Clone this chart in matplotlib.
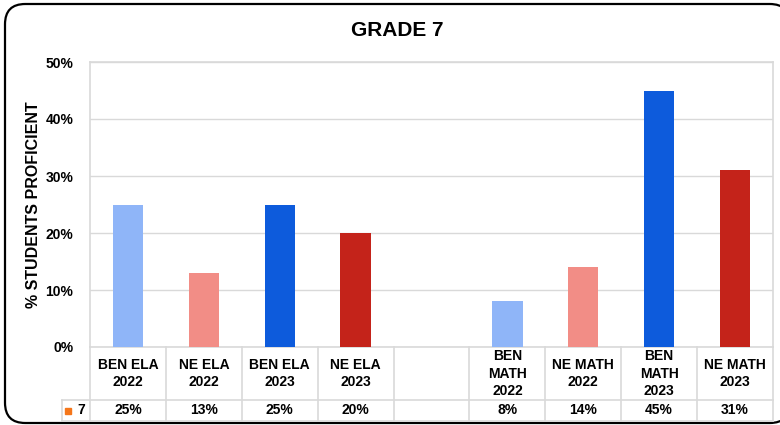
import matplotlib.pyplot as plt
from matplotlib.patches import FancyBboxPatch
import matplotlib.transforms as mtransforms

plt.rcParams['font.family'] = ['Liberation Sans', 'DejaVu Sans']
plt.rcParams['font.weight'] = 'bold'

# data
categories = ['BEN ELA\n2022', 'NE ELA\n2022', 'BEN ELA\n2023', 'NE ELA\n2023', '',
              'BEN\nMATH\n2022', 'NE MATH\n2022', 'BEN\nMATH\n2023', 'NE MATH\n2023']
values = [0.25, 0.13, 0.25, 0.20, None, 0.08, 0.14, 0.45, 0.31]
value_labels = ['25%', '13%', '25%', '20%', '', '8%', '14%', '45%', '31%']
bar_colors = ['#8fb5f8', '#f28d86', '#0d5bdc', '#c4231a', None,
              '#8fb5f8', '#f28d86', '#0d5bdc', '#c4231a']
series_name = '7'
yticks = [0, 0.1, 0.2, 0.3, 0.4, 0.5]

W, H = 780, 425
fig = plt.figure(figsize=(W / 100, H / 100), dpi=100)

# rounded outer frame (runs off the right/bottom edge like the screenshot)
frame = FancyBboxPatch((5 / W, 1 - 423 / H), 785 / W, 419 / H,
                       boxstyle='round,pad=0,rounding_size=0.026',
                       transform=fig.transFigure, facecolor='white',
                       edgecolor='black', linewidth=1.6, mutation_aspect=W / H,
                       zorder=-1)
fig.patches.append(frame)

ax_left, ax_right, ax_top, ax_bot = 90, 773, 62, 347
ax = fig.add_axes([ax_left / W, 1 - ax_bot / H, (ax_right - ax_left) / W, (ax_bot - ax_top) / H])
ax.set_facecolor('none')

grid_c = '#d9d9d9'
for i, (v, c) in enumerate(zip(values, bar_colors)):
    if v is not None:
        ax.bar(i, v, width=0.4, color=c, zorder=3)

ax.set_xlim(-0.5, len(categories) - 0.5)
ax.set_ylim(0, 0.5)
ax.set_yticks(yticks)
ax.set_yticklabels([f'{int(round(t * 100))}%' for t in yticks], fontsize=10, fontweight='bold')
ax.yaxis.grid(True, color=grid_c, linewidth=1, zorder=0)
ax.tick_params(axis='y', length=0, pad=12)
ax.set_xticks([])
for s in ax.spines.values():
    s.set_color(grid_c)
    s.set_linewidth(1.2)

ax.set_ylabel('% STUDENTS PROFICIENT', fontsize=11.5, fontweight='bold', labelpad=3)
fig.text(397 / W, 1 - 31 / H, 'GRADE 7', ha='center', va='center', fontsize=15, fontweight='bold')

# data table below the plot
axh = ax_bot - ax_top
row1 = -(400 - ax_bot) / axh
row2 = -(421 - ax_bot) / axh
trans = mtransforms.blended_transform_factory(ax.transData, ax.transAxes)
n = len(categories)
for k in range(n + 1):
    ax.plot([k - 0.5, k - 0.5], [0, row2], color=grid_c, lw=1.2, transform=trans, clip_on=False)
legend_x = -0.5 - (ax_left - 62) / ((ax_right - ax_left) / n)
for y in (row1, row2):
    ax.plot([legend_x, n - 0.5], [y, y], color=grid_c, lw=1.2, transform=trans, clip_on=False)
ax.plot([legend_x, legend_x], [row1, row2], color=grid_c, lw=1.2, transform=trans, clip_on=False)

for i, (cat, lab) in enumerate(zip(categories, value_labels)):
    ax.text(i, row1 / 2, cat, ha='center', va='center', fontsize=10, fontweight='bold',
            linespacing=1.3, transform=trans)
    ax.text(i, (row1 + row2) / 2, lab, ha='center', va='center', fontsize=10,
            fontweight='bold', transform=trans)

mid = (legend_x + -0.5) / 2
ax.text(mid + 0.02, (row1 + row2) / 2, series_name, ha='left', va='center', fontsize=10,
        fontweight='bold', transform=trans)
ax.plot([mid - 0.1], [(row1 + row2) / 2], marker='s', ms=5, color='#f5761a',
        transform=trans, clip_on=False)

fig.savefig('out.png', dpi=100)
